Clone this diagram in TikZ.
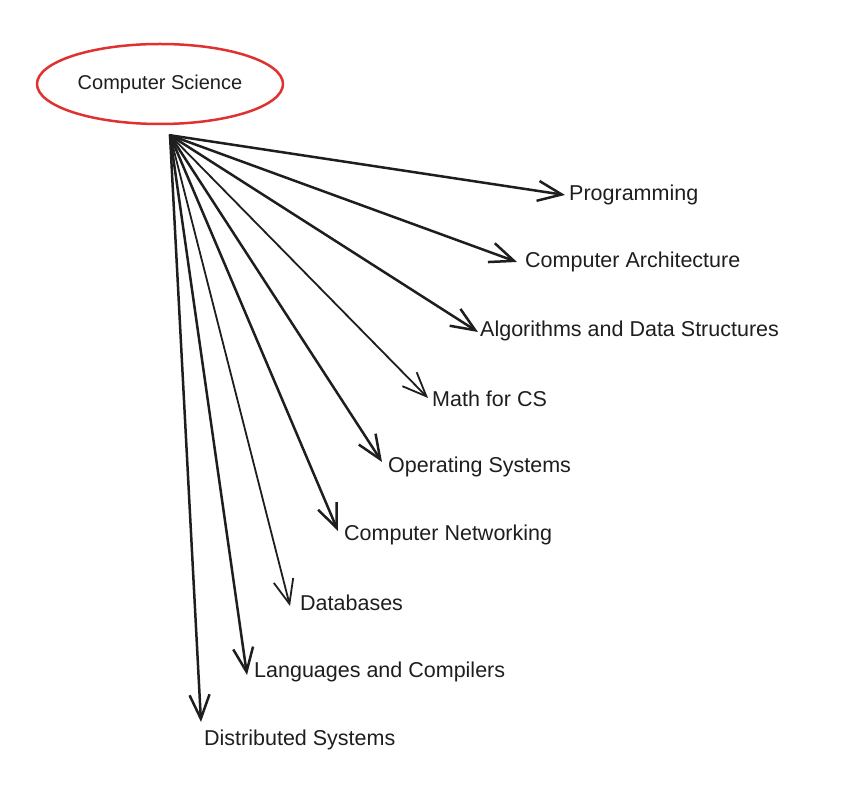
\documentclass[tikz,border=0pt]{standalone}
\usepackage{fontspec}
\setmainfont{Liberation Sans}
\usetikzlibrary{shapes.geometric,arrows.meta}
\definecolor{sketchred}{HTML}{E03131}
\definecolor{sketchink}{HTML}{1E1E1E}
\begin{document}
\begin{tikzpicture}[x=1pt,y=-1pt,
  topic/.style={anchor=west, inner sep=0pt, font=\fontsize{21.5}{25}\selectfont, text=sketchink},
  root/.style={ellipse, draw=sketchred, line width=2.5pt, minimum width=246pt,
    minimum height=80pt, inner sep=0pt, font=\fontsize{20}{24}\selectfont, text=sketchink},
  link/.style={draw=sketchink, line cap=round, line join=round,
    -{Straight Barb[length=24pt,width=20pt]}},
  heavy/.style={link, line width=2.5pt},
  light/.style={link, line width=1.8pt}]
  \useasboundingbox (0,0) rectangle (849,799);

  \node[root] (cs) at (160,84) {Computer Science};
  \coordinate (hub) at ([xshift=10pt,yshift=-10pt]cs.south);

  % topics, top to bottom
  \node[topic] (prog) at (569,195) {Programming};
  \node[topic] (arch) at (525,262) {Computer Architecture};
  \node[topic] (algo) at (480,331) {Algorithms and Data Structures};
  \node[topic] (math) at (432,399) {Math for CS};
  \node[topic] (os)   at (388,467) {Operating Systems};
  \node[topic] (net)  at (344,535) {Computer Networking};
  \node[topic] (db)   at (300,603) {Databases};
  \node[topic] (lang) at (254,672) {Languages and Compilers};
  \node[topic] (dist) at (204,740) {Distributed Systems};

  \draw[heavy] (hub) -- ([xshift=-4pt,yshift=0pt]prog.west);
  \draw[heavy] (hub) -- ([xshift=-8pt,yshift=0pt]arch.west);
  \draw[heavy] (hub) -- ([xshift=-2pt,yshift=-1pt]algo.west);
  \draw[light] (hub) -- ([xshift=-4pt,yshift=1pt]math.west);
  \draw[heavy] (hub) -- ([xshift=-6pt,yshift=5pt]os.west);
  \draw[heavy] (hub) -- ([xshift=-6pt,yshift=4pt]net.west);
  \draw[light] (hub) -- ([xshift=-10pt,yshift=-3pt]db.west);
  \draw[heavy] (hub) -- ([xshift=-7pt,yshift=-3pt]lang.west);
  \draw[heavy] (hub) -- ([xshift=-3pt,yshift=18pt]dist.west);
\end{tikzpicture}
\end{document}
